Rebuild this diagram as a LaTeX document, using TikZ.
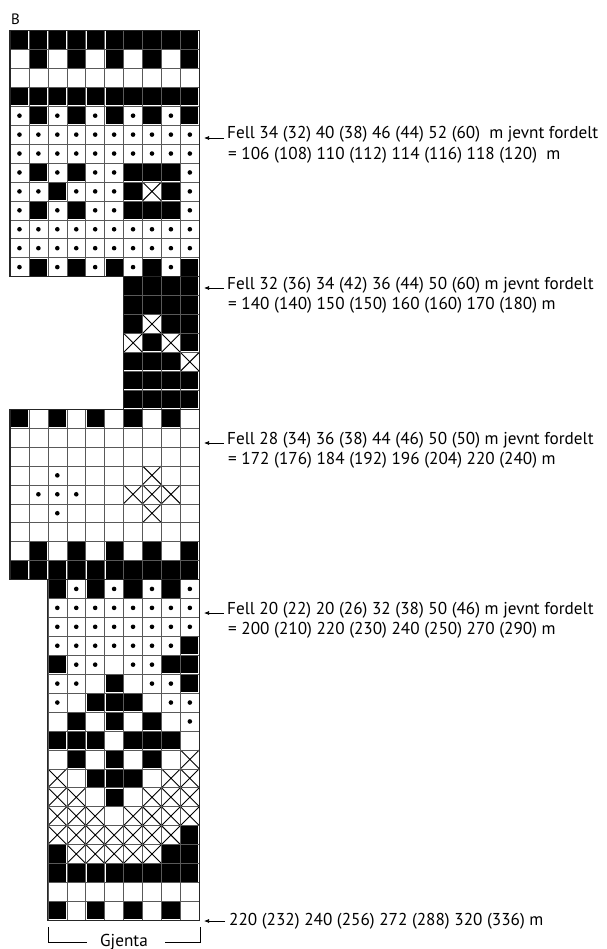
\documentclass[tikz,border=0pt]{standalone}
\usepackage{fontspec}
\setmainfont{PT Sans}
\usetikzlibrary{arrows.meta}
\newcommand\drawcellK[2]{\fill[black] (#1-0.955,#2-0.955) rectangle (#1-0.045,#2-0.045);}
\newcommand\drawcellW[2]{}
\newcommand\drawcellD[2]{\fill[black] (#1-0.5,#2-0.5) circle[radius=2.3pt];}
\newcommand\drawcellX[2]{\draw[line width=0.9pt] (#1-1,#2-1) -- (#1,#2) (#1-1,#2) -- (#1,#2-1);}
\newcommand\gridsec[4]{%
  \foreach \gx in {#1,...,#3} {\draw[gl] (\gx,#2) -- (\gx,#4);}%
  \foreach \gy in {#2,...,#4} {\draw[gl] (#1,\gy) -- (#3,\gy);}%
  \draw[outl] (#1,#2) rectangle (#3,#4);}
\begin{document}
\begin{tikzpicture}[x=1pt,y=-1pt,
  lbl/.style={anchor=base west,inner sep=0pt,font=\fontsize{17.2}{21}\selectfont},
  pointer/.style={-{Latex[length=5pt,width=4pt]},line width=0.7pt},
  gl/.style={line width=0.5pt,black!65},
  outl/.style={line width=1.1pt,black!85},
  brk/.style={line width=0.6pt}]
\useasboundingbox (0,0) rectangle (606,949);
\node[anchor=base west,inner sep=0pt,font=\fontsize{15}{17}\selectfont] (B) at (11,24.5) {B};
\begin{scope}[shift={(10,30.5)},x=18.93pt,y=-18.93pt]
\foreach \r/\sc/\cells in {
 1/1/{K,K,K,K,K,K,K,K,K,K},
 2/1/{W,K,W,K,W,K,W,K,W,K},
 3/1/{W,W,W,W,W,W,W,W,W,W},
 4/1/{K,K,K,K,K,K,K,K,K,K},
 5/1/{D,K,D,K,D,K,D,K,D,K},
 6/1/{D,D,D,D,D,D,D,D,D,D},
 7/1/{D,D,D,D,D,D,D,D,D,D},
 8/1/{D,K,D,K,D,D,K,K,K,D},
 9/1/{D,D,K,D,D,D,K,X,K,D},
 10/1/{D,K,D,K,D,D,K,K,K,D},
 11/1/{D,D,D,D,D,D,D,D,D,D},
 12/1/{D,D,D,D,D,D,D,D,D,D},
 13/1/{D,K,D,K,D,K,D,K,D,K},
 14/7/{K,K,K,K},
 15/7/{K,K,K,K},
 16/7/{K,X,K,K},
 17/7/{X,K,X,K},
 18/7/{K,K,K,X},
 19/7/{K,K,K,K},
 20/7/{K,K,K,K},
 21/1/{K,W,K,W,K,W,K,W,K,W},
 22/1/{W,W,W,W,W,W,W,W,W,W},
 23/1/{W,W,W,W,W,W,W,W,W,W},
 24/1/{W,W,D,W,W,W,W,X,W,W},
 25/1/{W,D,D,D,W,W,X,X,X,W},
 26/1/{W,W,D,W,W,W,W,X,W,W},
 27/1/{W,W,W,W,W,W,W,W,W,W},
 28/1/{W,K,W,K,W,K,W,K,W,K},
 29/1/{K,K,K,K,K,K,K,K,K,K},
 30/3/{K,D,K,D,K,D,K,D},
 31/3/{D,D,D,D,D,D,D,D},
 32/3/{D,D,D,D,D,D,D,D},
 33/3/{D,D,D,D,D,D,D,K},
 34/3/{K,D,D,W,D,D,K,K},
 35/3/{D,D,W,K,W,D,D,K},
 36/3/{D,W,K,K,K,W,D,D},
 37/3/{W,K,W,K,W,K,W,D},
 38/3/{K,K,K,W,K,K,K,W},
 39/3/{W,K,W,K,W,K,W,X},
 40/3/{X,W,K,K,K,W,X,X},
 41/3/{X,X,W,K,W,X,X,X},
 42/3/{X,X,X,W,X,X,X,X},
 43/3/{X,X,X,X,X,X,X,K},
 44/3/{K,X,X,X,X,X,K,K},
 45/3/{K,K,K,K,K,K,K,K},
 46/3/{W,W,W,W,W,W,W,W},
 47/3/{K,W,K,W,K,W,K,W}} {
  \foreach \v [count=\j] in \cells {
    \pgfmathtruncatemacro\cc{\sc+\j-1}
    \csname drawcell\v\endcsname{\cc}{\r}
  }
}
\gridsec{0}{0}{10}{13}
\gridsec{6}{13}{10}{20}
\gridsec{0}{20}{10}{29}
\gridsec{2}{29}{10}{47}
\end{scope}
% annotations
\node[lbl] (f1a) at (227,139) {Fell 34 (32) 40 (38) 46 (44) 52 (60)\ \ m jevnt fordelt};
\node[lbl] (f1b) at (228,160) {= 106 (108) 110 (112) 114 (116) 118 (120)\ \ m};
\coordinate (q1) at (224,138); \coordinate (p1) at (204,138);
\draw[pointer] (q1) -- (p1);
\node[lbl] (f2a) at (227,289) {Fell 32 (36) 34 (42) 36 (44) 50 (60) m jevnt fordelt};
\node[lbl] (f2b) at (228,309) {= 140 (140) 150 (150) 160 (160) 170 (180) m};
\coordinate (q2) at (224,288); \coordinate (p2) at (204,288);
\draw[pointer] (q2) -- (p2);
\node[lbl] (f3a) at (227,444) {Fell 28 (34) 36 (38) 44 (46) 50 (50) m jevnt fordelt};
\node[lbl] (f3b) at (228,464) {= 172 (176) 184 (192) 196 (204) 220 (240) m};
\coordinate (q3) at (224,443); \coordinate (p3) at (204,443);
\draw[pointer] (q3) -- (p3);
\node[lbl] (f4a) at (227,614) {Fell 20 (22) 20 (26) 32 (38) 50 (46) m jevnt fordelt};
\node[lbl] (f4b) at (228,634) {= 200 (210) 220 (230) 240 (250) 270 (290) m};
\coordinate (q4) at (224,613); \coordinate (p4) at (204,613);
\draw[pointer] (q4) -- (p4);
\node[lbl] (f5) at (229,925) {220 (232) 240 (256) 272 (288) 320 (336) m};
\coordinate (q5) at (225,921); \coordinate (p5) at (204,921);
\draw[pointer] (q5) -- (p5);
% repeat bracket
\node[anchor=base,inner sep=0pt,font=\fontsize{17.2}{21}\selectfont] (gj) at (124,946) {Gjenta};
\coordinate (bl) at (48,927); \coordinate (blc) at (48,942); \coordinate (bli) at (87,942);
\coordinate (br) at (200,927); \coordinate (brc) at (200,942); \coordinate (bri) at (165,942);
\draw[brk] (bl) -- (blc) -- (bli);
\draw[brk] (br) -- (brc) -- (bri);
\end{tikzpicture}
\end{document}
